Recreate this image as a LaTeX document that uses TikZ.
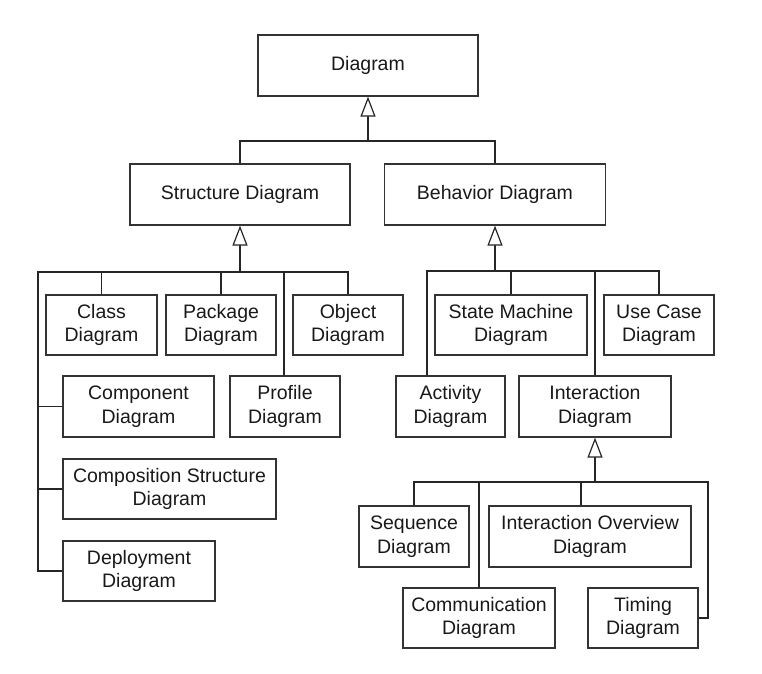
\documentclass[tikz,border=0pt]{standalone}
\usepackage{fontspec}
\setmainfont{Liberation Sans}
\usetikzlibrary{arrows.meta}
\begin{document}
\begin{tikzpicture}[x=1pt,y=-1pt,
  box/.style={draw=black!80, line width=1.2pt, align=center, inner sep=0pt,
    minimum height=61pt, text=black!90, font=\fontsize{19.5}{23.5}\selectfont},
  conn/.style={draw=black!85, line width=1.2pt},
  gen/.style={conn, -{Triangle[open,length=20pt,width=15pt,fill=white]}}]
\useasboundingbox (0,0) rectangle (762,673);
% nodes
\node[box, minimum width=220pt] (diagram) at (368,65.5) {Diagram};
\node[box, minimum width=220pt] (struct) at (240,194.5) {Structure Diagram};
\node[box, minimum width=221pt] (beh) at (495,194.5) {Behavior Diagram};
\node[box, minimum width=111pt, minimum height=60pt] (class) at (101.5,325) {Class\\Diagram};
\node[box, minimum width=110pt, minimum height=60pt] (pkg) at (221,325) {Package\\Diagram};
\node[box, minimum width=110pt, minimum height=60pt] (obj) at (348,325) {Object\\Diagram};
\node[box, minimum width=151pt] (comp) at (138.5,406.5) {Component\\Diagram};
\node[box, minimum width=110pt] (prof) at (285,406.5) {Profile\\Diagram};
\node[box, minimum width=213pt, minimum height=60pt] (compstr) at (169.5,489) {Composition Structure\\Diagram};
\node[box, minimum width=152pt, minimum height=60pt] (deploy) at (139,571) {Deployment\\Diagram};
\node[box, minimum width=152pt, minimum height=60pt] (sm) at (511,325) {State Machine\\Diagram};
\node[box, minimum width=110pt, minimum height=60pt] (uc) at (659,325) {Use Case\\Diagram};
\node[box, minimum width=109pt] (act) at (450.5,406.5) {Activity\\Diagram};
\node[box, minimum width=152pt] (inter) at (595,406.5) {Interaction\\Diagram};
\node[box, minimum width=110pt] (seq) at (414,536.5) {Sequence\\Diagram};
\node[box, minimum width=202pt] (io) at (590,536.5) {Interaction Overview\\Diagram};
\node[box, minimum width=152pt, minimum height=60pt] (comm) at (479,618) {Communication\\Diagram};
\node[box, minimum width=110pt, minimum height=60pt] (timing) at (643,618) {Timing\\Diagram};
% junctions
\coordinate (tj) at (diagram.south |- 0,141);
\coordinate (sj) at (struct.south |- 0,272);
\coordinate (sl) at (38,272);
\coordinate (bj) at (beh.south |- 0,271);
\coordinate (ij) at (inter.south |- 0,482);
\coordinate (ir) at (708,482);
% top level
\draw[gen] (tj) -- (diagram.south);
\draw[conn] (struct.north) |- (tj);
\draw[conn] (beh.north) |- (tj);
% structure
\draw[gen] (sj) -- (struct.south);
\draw[conn] (class.north) |- (sj);
\draw[conn] (obj.north) |- (sj);
\draw[conn] (pkg.north) -- (pkg.north |- sj);
\draw[conn] ([xshift=-1pt]prof.north) -- ([xshift=-1pt]prof.north |- sj);
\draw[conn] (deploy.west) -| (sl) -- (sj);
\draw[conn] (comp.west) -- (comp.west -| sl);
\draw[conn] (compstr.west) -- (compstr.west -| sl);
% behavior
\draw[gen] (bj) -- (beh.south);
\draw[conn] ([xshift=-23.5pt]act.north) |- (bj);
\draw[conn] (uc.north) |- (bj);
\draw[conn] (sm.north) -- (sm.north |- bj);
\draw[conn] (inter.north) -- (inter.north |- bj);
% interaction
\draw[gen] (ij) -- (inter.south);
\draw[conn] (seq.north) |- (ij);
\draw[conn] (timing.east) -| (ir) -- (ij);
\draw[conn] (comm.north) -- (comm.north |- ij);
\draw[conn] ([xshift=-9pt]io.north) -- ([xshift=-9pt]io.north |- ij);
\end{tikzpicture}
\end{document}
